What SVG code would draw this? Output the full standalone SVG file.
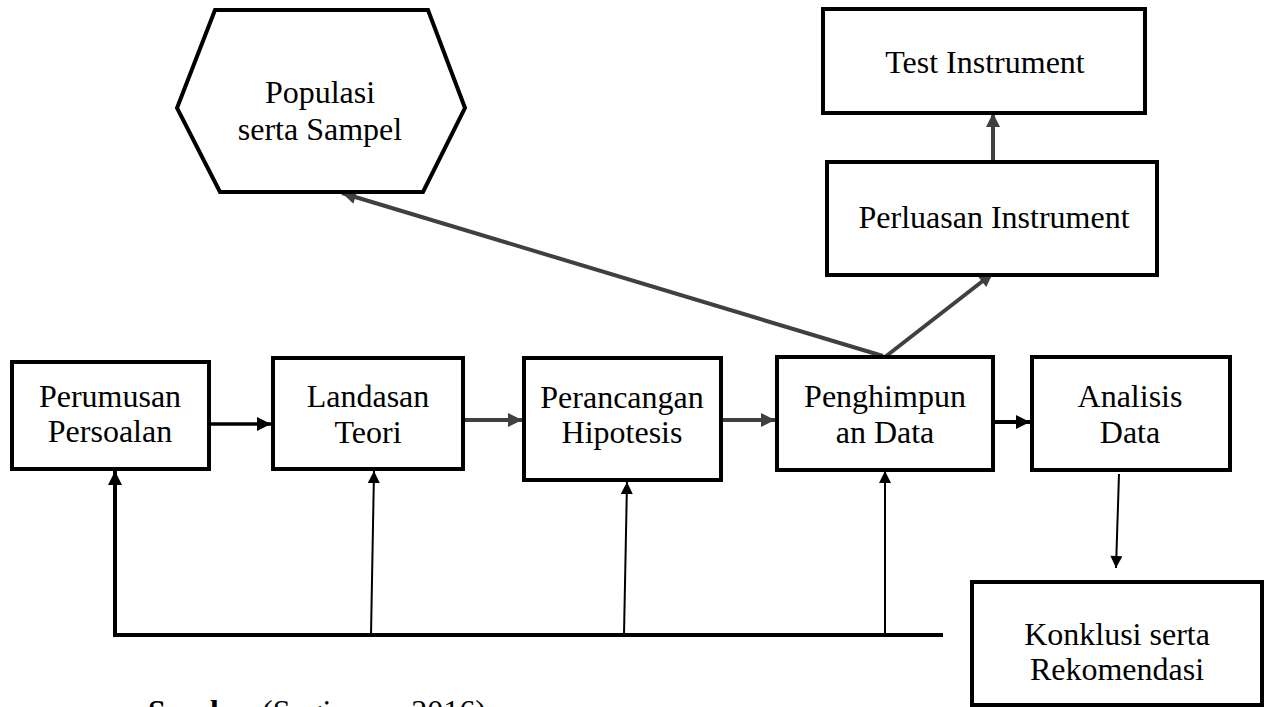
<svg xmlns="http://www.w3.org/2000/svg" width="1269" height="707" viewBox="0 0 1269 707">
<style>
.box{fill:#fff;stroke:#000;stroke-width:4}
.t{font-family:"Liberation Serif","Times New Roman",serif;font-size:32px;fill:#000;text-anchor:middle}
.blk{stroke:#000;fill:none}
.gry{stroke:#404040;stroke-width:4;fill:none}
</style>
<defs>
<marker id="ab" viewBox="0 0 10 10" refX="10" refY="5" markerUnits="userSpaceOnUse" markerWidth="16" markerHeight="14" orient="auto"><path d="M0,0L10,5L0,10z" fill="#000"/></marker>
<marker id="as" viewBox="0 0 10 10" refX="10" refY="5" markerUnits="userSpaceOnUse" markerWidth="16" markerHeight="12" orient="auto"><path d="M0,0L10,5L0,10z" fill="#000"/></marker>
<marker id="ag" viewBox="0 0 10 10" refX="10" refY="5" markerUnits="userSpaceOnUse" markerWidth="18" markerHeight="14" orient="auto"><path d="M0,0L10,5L0,10z" fill="#404040"/></marker>
</defs>
<rect width="1269" height="707" fill="#fff"/>
<g id="connectors">
<line class="blk" stroke-width="3.5" x1="209" y1="424" x2="271" y2="424" marker-end="url(#ab)"/>
<line class="gry" x1="463" y1="420" x2="522" y2="420" marker-end="url(#ag)"/>
<line class="gry" x1="721" y1="420" x2="775" y2="420" marker-end="url(#ag)"/>
<line class="blk" stroke-width="4" x1="993" y1="422" x2="1030" y2="422" marker-end="url(#ab)"/>
<line class="gry" x1="883" y1="356" x2="342" y2="193" marker-end="url(#ag)"/>
<line class="gry" x1="885" y1="357" x2="993" y2="273" marker-end="url(#ag)"/>
<line class="gry" x1="993" y1="162" x2="993" y2="113" marker-end="url(#ag)"/>
<line class="blk" stroke-width="4" x1="113" y1="635" x2="943" y2="635"/>
<line class="blk" stroke-width="4" x1="115" y1="637" x2="115" y2="471" marker-end="url(#ab)"/>
<line class="blk" stroke-width="2" x1="371" y1="635" x2="374" y2="471" marker-end="url(#as)"/>
<line class="blk" stroke-width="2" x1="624" y1="635" x2="627" y2="482" marker-end="url(#as)"/>
<line class="blk" stroke-width="2" x1="885" y1="635" x2="885" y2="471" marker-end="url(#as)"/>
<line class="blk" stroke-width="2" x1="1119" y1="474" x2="1116" y2="568" marker-end="url(#as)"/>
</g>
<g id="populasi">
<polygon class="box" points="177,108 215,10 428,10 465,108 423,192 220,192"/>
<text class="t" x="320" y="103">Populasi</text>
<text class="t" x="320" y="140">serta Sampel</text>
</g>
<g id="test">
<rect class="box" x="823" y="9" width="322" height="104"/>
<text class="t" x="985" y="73">Test Instrument</text>
</g>
<g id="perluasan">
<rect class="box" x="827" y="162" width="330" height="113"/>
<text class="t" x="994" y="228">Perluasan Instrument</text>
</g>
<g id="perumusan">
<rect class="box" x="12" y="362" width="197" height="107"/>
<text class="t" x="110" y="407">Perumusan</text>
<text class="t" x="110" y="442">Persoalan</text>
</g>
<g id="landasan">
<rect class="box" x="273" y="358" width="190" height="111"/>
<text class="t" x="368" y="407">Landasan</text>
<text class="t" x="368" y="443">Teori</text>
</g>
<g id="perancangan">
<rect class="box" x="524" y="358" width="197" height="122"/>
<text class="t" x="622" y="408">Perancangan</text>
<text class="t" x="622" y="443">Hipotesis</text>
</g>
<g id="penghimpun">
<rect class="box" x="777" y="357" width="216" height="113"/>
<text class="t" x="885" y="407">Penghimpun</text>
<text class="t" x="885" y="443">an Data</text>
</g>
<g id="analisis">
<rect class="box" x="1032" y="357" width="198" height="113"/>
<text class="t" x="1130" y="407">Analisis</text>
<text class="t" x="1130" y="443">Data</text>
</g>
<g id="konklusi">
<rect class="box" x="972" y="582" width="290" height="123"/>
<text class="t" x="1117" y="645">Konklusi serta</text>
<text class="t" x="1117" y="680">Rekomendasi</text>
</g>
<g id="sumber">
<text class="t" style="text-anchor:start" x="148" y="722"><tspan font-weight="bold">Sumber</tspan> <tspan x="262">(Sugiyono, 2016)</tspan></text>
</g>
</svg>
